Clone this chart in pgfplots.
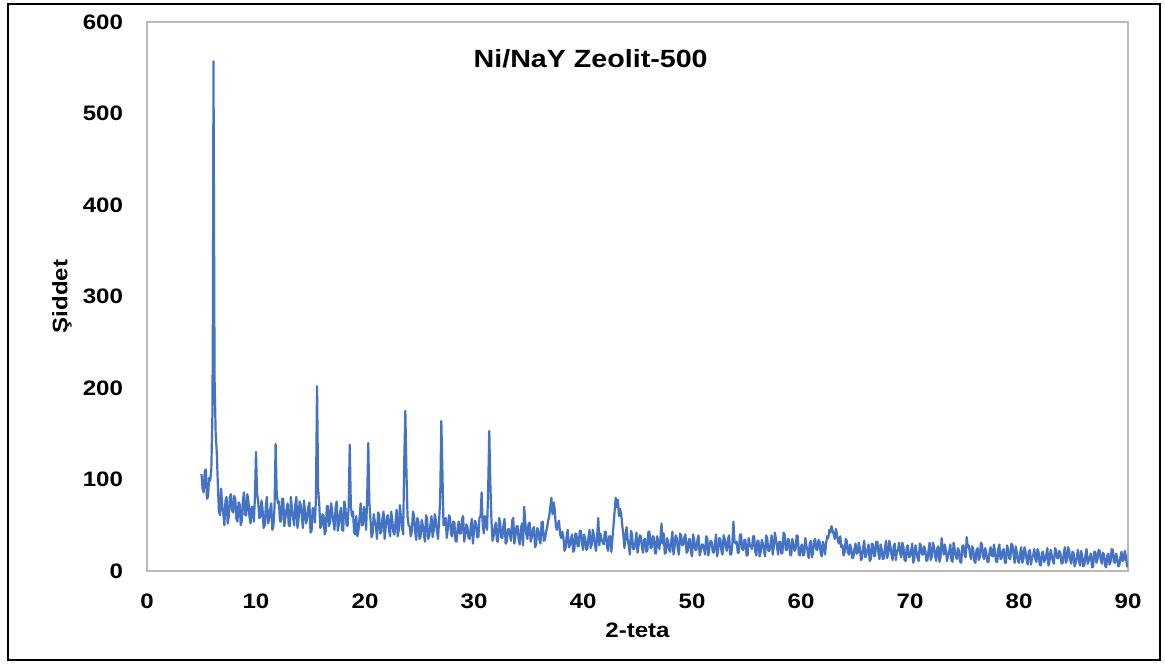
\documentclass[border=0pt]{standalone}
\usepackage{fontspec}
\setmainfont{Liberation Sans}[FakeStretch=1.15]
\usepackage{pgfplots}
\pgfplotsset{compat=1.18}
\definecolor{xblue}{HTML}{4472C4}
\begin{document}
\begin{tikzpicture}[x=1bp,y=1bp]
\useasboundingbox (-73.5,-46) rectangle (509,285.5);
\draw[black, line width=0.9bp] (-69.5,-44.5) rectangle (506.5,283.5);
\begin{axis}[at={(0,0)}, anchor=south west, scale only axis,
  width=490.5bp, height=274.5bp,
  xmin=0, xmax=90, ymin=0, ymax=600,
  xtick={0,10,...,90}, ytick={0,100,...,600},
  major tick length=0,
  axis line style={gray!55, line width=0.6bp},
  ticklabel style={font=\bfseries\fontsize{10.5}{12}\selectfont},
  /pgf/number format/assume math mode=true,
  xticklabel style={yshift=-8bp},
  yticklabel style={xshift=-8.5bp},
  xlabel={2-teta}, ylabel={Şiddet},
  label style={font=\bfseries\fontsize{10.5}{12}\selectfont},
  xlabel style={at={(axis description cs:0.5,-0.1075)}, anchor=center},
  ylabel style={at={(axis description cs:-0.0866,0.5)}, anchor=center},
]
\addplot[xblue, line width=1.1bp, line join=round, mark=none] coordinates {
(5.0,106) (5.1,90) (5.2,86) (5.3,109) (5.4,111) (5.5,79) (5.6,81) (5.7,102) (5.8,99) (5.9,110) (6.0,170) (6.05,290) (6.1,557) (6.15,380) (6.2,210) (6.3,150) (6.4,130) (6.5,95)
(6.6,65) (6.7,61) (6.8,90) (6.9,72) (7.0,63) (7.1,50) (7.2,77) (7.3,81) (7.4,52) (7.5,59) (7.6,81) (7.7,84) (7.8,66) (7.9,64) (8.0,82) (8.1,79) (8.2,57) (8.3,54) (8.4,75) (8.5,73)
(8.6,50) (8.7,55) (8.8,77) (8.9,86) (9.0,61) (9.1,61) (9.2,84) (9.3,77) (9.4,59) (9.5,52) (9.6,70) (9.7,70) (9.8,54)
(9.9,80) (10.0,130) (10.1,85)
(10.2,76) (10.3,58) (10.4,59) (10.5,77) (10.6,68) (10.7,47) (10.8,50) (10.9,70) (11.0,81) (11.1,52) (11.2,56) (11.3,67) (11.4,74) (11.5,45) (11.6,49) (11.7,70) (11.8,139) (11.9,85)
(12.0,74) (12.1,76) (12.2,54) (12.3,54) (12.4,79) (12.5,79) (12.6,49) (12.7,59) (12.8,67) (12.9,74) (13.0,50) (13.1,49) (13.2,81) (13.3,68) (13.4,58) (13.5,50) (13.6,72) (13.7,81)
(13.8,47) (13.9,56) (14.0,76) (14.1,72) (14.2,61) (14.3,47) (14.4,77) (14.5,65) (14.6,52) (14.7,58) (14.8,70) (14.9,75) (15.0,42) (15.1,44) (15.2,69) (15.3,67) (15.4,53)
(15.5,80) (15.6,202) (15.7,90)
(15.8,74) (15.9,47) (16.0,49) (16.1,62) (16.2,60) (16.3,40) (16.4,44) (16.5,71) (16.6,71) (16.7,49) (16.8,54) (16.9,74) (17.0,63) (17.1,54) (17.2,45) (17.3,69) (17.4,76)
(17.5,44) (17.6,51) (17.7,63) (17.8,69) (17.9,45) (18.0,44) (18.1,76) (18.2,69) (18.3,51) (18.4,49)
(18.5,70) (18.6,138) (18.7,72)
(18.8,60) (18.9,65) (19.0,42) (19.1,40) (19.2,60) (19.3,38) (19.4,44) (19.5,58) (19.6,74) (19.7,50) (19.8,50) (19.9,70) (20.0,63) (20.1,45)
(20.2,80) (20.3,140) (20.4,75) (20.5,57)
(20.6,37) (20.7,41) (20.8,62) (20.9,54) (21.0,49) (21.1,35) (21.2,64) (21.3,62) (21.4,41) (21.5,43) (21.6,57) (21.7,65) (21.8,35) (21.9,48) (22.0,59) (22.1,61) (22.2,45)
(22.3,38) (22.4,65) (22.5,56) (22.6,43) (22.7,40) (22.8,53) (22.9,67) (23.0,38) (23.1,45) (23.2,72) (23.3,59) (23.4,47) (23.5,40)
(23.6,120) (23.7,175) (23.8,110) (23.9,60)
(24.0,50) (24.1,49) (24.2,38) (24.3,44) (24.4,65) (24.5,60) (24.6,43) (24.7,34) (24.8,58) (24.9,54) (25.0,35) (25.1,38) (25.2,56) (25.3,50) (25.4,40) (25.5,32) (25.6,61)
(25.7,57) (25.8,35) (25.9,39) (26.0,50) (26.1,60) (26.2,37) (26.3,44) (26.4,62) (26.5,56) (26.6,43) (26.7,35) (26.8,55)
(26.9,80) (27.0,164) (27.1,110)
(27.2,50) (27.3,51) (27.4,58) (27.5,36) (27.6,46) (27.7,61) (27.8,59) (27.9,40) (28.0,38) (28.1,54) (28.2,53) (28.3,33) (28.4,32) (28.5,47) (28.6,54) (28.7,41) (28.8,41)
(28.9,57) (29.0,60) (29.1,32) (29.2,39) (29.3,51) (29.4,48) (29.5,36) (29.6,35) (29.7,48) (29.8,57) (29.9,30) (30.0,44) (30.1,55) (30.2,51) (30.3,37) (30.4,37) (30.5,58)
(30.6,60) (30.7,86) (30.8,50) (30.9,41) (31.0,60) (31.1,53) (31.2,45) (31.3,90) (31.4,153) (31.5,95) (31.6,55) (31.7,33)
(31.8,38) (31.9,48) (32.0,53) (32.1,33) (32.2,32) (32.3,58) (32.4,53) (32.5,37) (32.6,36) (32.7,50) (32.8,57) (32.9,30) (33.0,32) (33.1,45) (33.2,46) (33.3,39) (33.4,33)
(33.5,55) (33.6,58) (33.7,30) (33.8,38) (33.9,49) (34.0,49) (34.1,34) (34.2,29) (34.3,46) (34.4,52) (34.5,28) (34.6,70) (34.7,55) (34.8,40) (34.9,35)
(35.0,51) (35.1,53) (35.2,32) (35.3,37) (35.4,46) (35.5,48) (35.6,26) (35.7,29) (35.8,47) (35.9,44) (36.0,34) (36.1,30) (36.2,53) (36.3,54) (36.4,33) (36.5,34) (36.6,42)
(36.7,47) (36.8,55) (36.9,60) (37.0,70) (37.1,80) (37.2,62) (37.3,75) (37.4,68) (37.5,50) (37.6,45) (37.7,52) (37.8,55) (37.9,40)
(38.0,36) (38.1,43) (38.2,37) (38.3,22) (38.4,25) (38.5,38) (38.6,45) (38.7,26) (38.8,28) (38.9,35) (39.0,40) (39.1,21) (39.2,23) (39.3,41) (39.4,40) (39.5,27) (39.6,27)
(39.7,44) (39.8,44) (39.9,31) (40.0,23) (40.1,40) (40.2,35) (40.3,23) (40.4,25) (40.5,37) (40.6,45) (40.7,25) (40.8,29) (40.9,45) (41.0,39) (41.1,28) (41.2,22) (41.3,39)
(41.4,58) (41.5,28) (41.6,41) (41.7,34) (41.8,32) (41.9,29) (42.0,43) (42.1,43) (42.2,26) (42.3,22) (42.4,38) (42.5,38) (42.6,21) (42.7,35)
(42.8,50) (42.9,65) (43.0,80) (43.1,70) (43.2,78) (43.3,60) (43.4,68) (43.5,62) (43.6,50) (43.7,40) (43.8,25) (43.9,38)
(44.0,48) (44.1,34) (44.2,28) (44.3,18) (44.4,44) (44.5,40) (44.6,24) (44.7,24) (44.8,31) (44.9,42) (45.0,20) (45.1,28) (45.2,39) (45.3,38) (45.4,27) (45.5,20) (45.6,34)
(45.7,35) (45.8,21) (45.9,22) (46.0,43) (46.1,43) (46.2,25) (46.3,26) (46.4,38) (46.5,37) (46.6,20) (46.7,19) (46.8,38) (46.9,32) (47.0,24) (47.1,35)
(47.2,52) (47.3,30) (47.4,41) (47.5,19) (47.6,20) (47.7,36) (47.8,33) (47.9,23) (48.0,21) (48.1,33) (48.2,43) (48.3,18) (48.4,26) (48.5,39) (48.6,36) (48.7,24) (48.8,18)
(48.9,41) (49.0,39) (49.1,28) (49.2,29) (49.3,37) (49.4,40) (49.5,20) (49.6,22) (49.7,34) (49.8,35) (49.9,21)
(50.0,16) (50.1,40) (50.2,34) (50.3,23) (50.4,23) (50.5,34) (50.6,39) (50.7,17) (50.8,22) (50.9,29) (51.0,29) (51.1,24) (51.2,18) (51.3,38) (51.4,36) (51.5,17) (51.6,26)
(51.7,33) (51.8,32) (51.9,21) (52.0,20) (52.1,30) (52.2,40) (52.3,16) (52.4,23) (52.5,36) (52.6,35) (52.7,22) (52.8,18) (52.9,39) (53.0,35) (53.1,26) (53.2,22) (53.3,35)
(53.4,39) (53.5,18) (53.6,18) (53.7,30) (53.8,54) (53.9,32) (54.0,30) (54.1,32) (54.2,20) (54.3,20) (54.4,40) (54.5,40) (54.6,24) (54.7,23) (54.8,34) (54.9,34) (55.0,17)
(55.1,17) (55.2,36) (55.3,29) (55.4,27) (55.5,24) (55.6,38) (55.7,38) (55.8,21) (55.9,17) (56.0,33) (56.1,33) (56.2,16) (56.3,21) (56.4,34) (56.5,30) (56.6,23) (56.7,16)
(56.8,39) (56.9,36) (57.0,22) (57.1,22) (57.2,29) (57.3,39) (57.4,18) (57.5,26) (57.6,42) (57.7,35) (57.8,26) (57.9,18) (58.0,32) (58.1,32) (58.2,19) (58.3,20) (58.4,42)
(58.5,40) (58.6,23) (58.7,23) (58.8,35) (58.9,34) (59.0,18) (59.1,17) (59.2,35) (59.3,29) (59.4,22) (59.5,24) (59.6,39) (59.7,38) (59.8,18) (59.9,17)
(60.0,27) (60.1,29) (60.2,17) (60.3,18) (60.4,36) (60.5,27) (60.6,22) (60.7,14) (60.8,30) (60.9,33) (61.0,15) (61.1,20) (61.2,33) (61.3,35) (61.4,24) (61.5,23) (61.6,34)
(61.7,32) (61.8,20) (61.9,16) (62.0,32) (62.1,28) (62.2,18) (62.3,30)
(62.4,38) (62.5,36) (62.6,45) (62.7,42) (62.8,49) (62.9,44) (63.0,40) (63.1,35) (63.2,46) (63.3,40) (63.4,32) (63.5,30) (63.6,38) (63.7,26)
(63.8,28) (63.9,17) (64.0,20) (64.1,35) (64.2,33) (64.3,20) (64.4,18) (64.5,29) (64.6,25) (64.7,14) (64.8,15) (64.9,24)
(65.0,30) (65.1,19) (65.2,20) (65.3,31) (65.4,25) (65.5,12) (65.6,14) (65.7,26) (65.8,33) (65.9,15) (66.0,18) (66.1,24) (66.2,29) (66.3,11) (66.4,13) (66.5,30) (66.6,29)
(66.7,16) (66.8,17) (66.9,32) (67.0,32) (67.1,20) (67.2,13) (67.3,29) (67.4,24) (67.5,13) (67.6,14) (67.7,25) (67.8,33) (67.9,14) (68.0,19) (68.1,33) (68.2,27) (68.3,18)
(68.4,12) (68.5,27) (68.6,30) (68.7,12) (68.8,21) (68.9,23) (69.0,31) (69.1,19) (69.2,15) (69.3,31) (69.4,26) (69.5,12) (69.6,11) (69.7,26) (69.8,28) (69.9,15)
(70.0,16) (70.1,22) (70.2,30) (70.3,9) (70.4,14) (70.5,28) (70.6,21) (70.7,14) (70.8,11) (70.9,30) (71.0,28) (71.1,18) (71.2,18) (71.3,27) (71.4,23) (71.5,11) (71.6,12)
(71.7,23) (71.8,31) (71.9,12) (72.0,16) (72.1,31) (72.2,27) (72.3,16) (72.4,11) (72.5,25) (72.6,27) (72.7,10) (72.8,15) (72.9,36) (73.0,25) (73.1,18)
(73.2,29) (73.3,21) (73.4,11) (73.5,17) (73.6,22) (73.7,29) (73.8,12) (73.9,10) (74.0,31) (74.1,24) (74.2,16) (74.3,13) (74.4,25) (74.5,22) (74.6,10) (74.7,9) (74.8,27)
(74.9,28) (75.0,18) (75.1,15) (75.2,37) (75.3,26) (75.4,28) (75.5,18) (75.6,13) (75.7,27) (75.8,24) (75.9,11) (76.0,9) (76.1,23) (76.2,25) (76.3,12) (76.4,15) (76.5,31)
(76.6,29) (76.7,16) (76.8,13) (76.9,25) (77.0,20) (77.1,10) (77.2,10) (77.3,21) (77.4,26) (77.5,17) (77.6,16) (77.7,29) (77.8,21) (77.9,10) (78.0,10) (78.1,24) (78.2,29)
(78.3,13) (78.4,14) (78.5,22) (78.6,24) (78.7,9) (78.8,9) (78.9,28) (79.0,24) (79.1,14) (79.2,13) (79.3,30) (79.4,28) (79.5,18) (79.6,9) (79.7,27) (79.8,20) (79.9,11)
(80.0,9) (80.1,19) (80.2,26) (80.3,9) (80.4,13) (80.5,26) (80.6,21) (80.7,12) (80.8,7) (80.9,21) (81.0,23) (81.1,7) (81.2,15) (81.3,17) (81.4,24) (81.5,13) (81.6,10)
(81.7,24) (81.8,20) (81.9,7) (82.0,6) (82.1,20) (82.2,21) (82.3,10) (82.4,12) (82.5,18) (82.6,25) (82.7,6) (82.8,11) (82.9,23) (83.0,17) (83.1,11) (83.2,8) (83.3,25)
(83.4,23) (83.5,14) (83.6,14) (83.7,22) (83.8,19) (83.9,8) (84.0,9) (84.1,19) (84.2,26) (84.3,9) (84.4,12) (84.5,26) (84.6,22) (84.7,12) (84.8,8) (84.9,21)
(85.0,20) (85.1,5) (85.2,9) (85.3,15) (85.4,23) (85.5,11) (85.6,6) (85.7,22) (85.8,16) (85.9,5) (86.0,7) (86.1,18) (86.2,24) (86.3,8) (86.4,11) (86.5,16) (86.6,19)
(86.7,4) (86.8,5) (86.9,21) (87.0,21) (87.1,9) (87.2,13) (87.3,23) (87.4,22) (87.5,12) (87.6,8) (87.7,20) (87.8,18) (87.9,6) (88.0,4) (88.1,17) (88.2,19) (88.3,7)
(88.4,10) (88.5,24) (88.6,23) (88.7,10) (88.8,9) (88.9,19) (89.0,15) (89.1,5) (89.2,6) (89.3,15) (89.4,21) (89.5,11) (89.6,12) (89.7,22) (89.8,17) (89.9,5) (90.0,7)
};
\node[font=\bfseries\fontsize{12.5}{14}\selectfont] at (axis cs:40.7,560) {Ni/NaY Zeolit-500};
\end{axis}
\end{tikzpicture}
\end{document}
